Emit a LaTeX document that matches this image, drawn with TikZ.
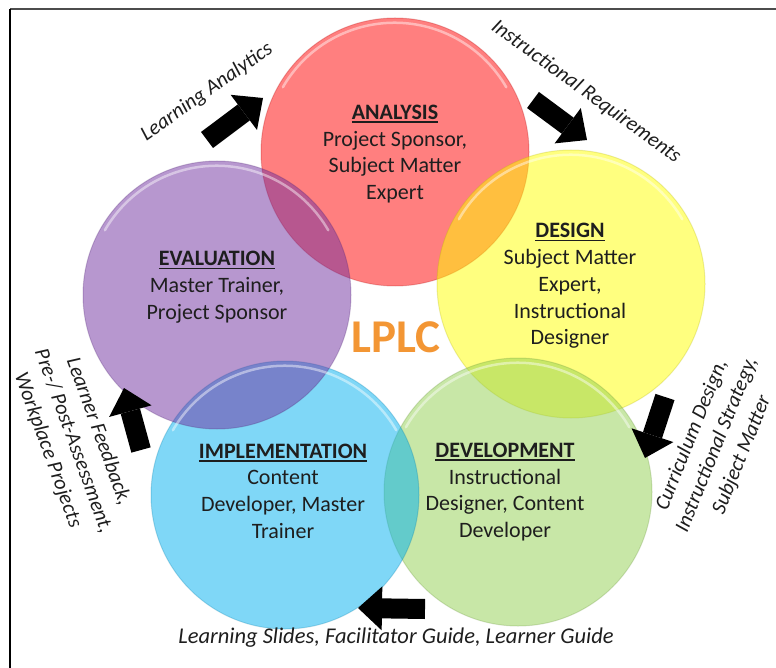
\documentclass[tikz,border=0pt]{standalone}
\usepackage{fontspec}
\setmainfont{Carlito}
\usetikzlibrary{arrows.meta}

\definecolor{anared}{RGB}{255,0,0}
\definecolor{desyellow}{RGB}{255,255,0}
\definecolor{evalpurple}{RGB}{112,48,160}
\definecolor{implblue}{RGB}{0,176,240}
\definecolor{devgreen}{RGB}{146,208,80}
\definecolor{txtgray}{RGB}{30,30,30}
\definecolor{lplcorange}{RGB}{243,150,52}

\newcommand{\phasetitle}[1]{\setbox0\hbox{\textbf{#1}}\rlap{\rule[-3.5pt]{\wd0}{1.6pt}}\box0}

\begin{document}
\begin{tikzpicture}[x=1pt,y=-1pt,
    phase/.style={circle, minimum size=268pt, inner sep=0pt, fill=#1, fill opacity=0.5,
      draw=#1!70!black, draw opacity=0.25, line width=1pt},
    glare/.style={white, opacity=0.45, line width=2.5pt, line cap=round},
    phasetext/.style={align=center, text=txtgray, font=\fontsize{22}{26.7}\selectfont},
    flowlabel/.style={align=center, text=txtgray, font=\itshape\fontsize{21}{27}\selectfont},
    bigarrow/.style={black, line width=20pt,
      -{Triangle[length=24pt,width=44pt,line width=0pt]}}]

    \fill[white] (0,0) rectangle (776,668);
    \useasboundingbox (0,0) rectangle (776,668);

    % frame
    \draw[black!70, line width=2pt] (10,9) -- (776,9);
    \draw[black, line width=1.5pt] (10,9) -- (10,668);

    % the five phases, drawn clockwise from the top
    \node[phase=anared] (analysis) at (395,152) {};
    \node[phase=desyellow] (design) at (571,284) {};
    \node[phase=devgreen] (development) at (518,492) {};
    \node[phase=implblue] (implementation) at (285,495) {};
    \node[phase=evalpurple] (evaluation) at (217,295) {};

    \foreach \ph in {analysis,design,development,implementation,evaluation}
        \draw[glare] ([shift={(150:-5pt)}]\ph.150) arc[start angle=150, end angle=30, radius=129pt];

    \node[phasetext] (analysistext) at (395,154)
        {\phasetitle{ANALYSIS}\\Project Sponsor,\\Subject Matter\\Expert};
    \node[phasetext] (designtext) at (570,286)
        {\phasetitle{DESIGN}\\Subject Matter\\Expert,\\Instructional\\Designer};
    \node[phasetext] (evaluationtext) at (217,287)
        {\phasetitle{EVALUATION}\\Master Trainer,\\Project Sponsor};
    \node[phasetext] (implementationtext) at (283,491)
        {\phasetitle{IMPLEMENTATION}\\Content\\Developer, Master\\Trainer};
    \node[phasetext] (developmenttext) at (505,492)
        {\phasetitle{DEVELOPMENT}\\Instructional\\Designer, Content\\Developer};

    \node[text=lplcorange, font=\bfseries\fontsize{47}{47}\selectfont] (lplc) at (396,337) {LPLC};

    % arrows between phases
    \coordinate (la1) at (207,140);
    \coordinate (la2) at (263,98);
    \coordinate (ir1) at (533,100);
    \coordinate (ir2) at (587,140);
    \coordinate (cd1) at (665,397);
    \coordinate (cd2) at (645,458);
    \coordinate (ls1) at (425,609);
    \coordinate (ls2) at (358,608);
    \coordinate (lf1) at (141,450);
    \coordinate (lf2) at (124,388);

    \draw[bigarrow] (la1) -- (la2);
    \draw[bigarrow] (ir1) -- (ir2);
    \draw[bigarrow] (cd1) -- (cd2);
    \draw[bigarrow] (ls1) -- (ls2);
    \draw[bigarrow] (lf1) -- (lf2);

    % arrow labels
    \node[flowlabel, rotate=35] (lalabel) at (207,92) {Learning Analytics};
    \node[flowlabel, rotate=-36] (irlabel) at (586,92) {Instructional Requirements};
    \node[flowlabel, rotate=68] (cdlabel) at (717,445)
        {Curriculum Design,\\Instructional Strategy,\\Subject Matter};
    \node[flowlabel, font=\itshape\fontsize{22.5}{27}\selectfont] (lslabel) at (396,638)
        {Learning Slides, Facilitator Guide, Learner Guide};
    \node[flowlabel, rotate=-70] (lflabel) at (73,441)
        {Learner Feedback,\\Pre-/ Post-Assessment,\\Workplace Projects};
\end{tikzpicture}
\end{document}
